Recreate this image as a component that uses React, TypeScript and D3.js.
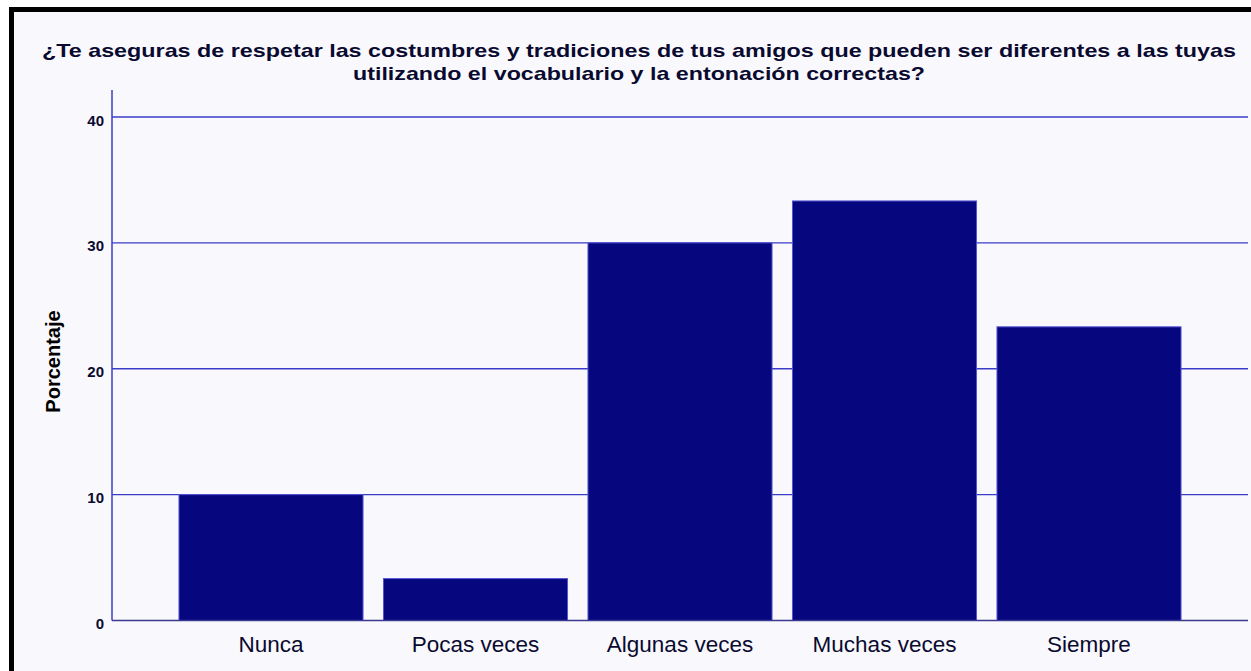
import React from "react";
import * as d3 from "d3";

const categories = ["Nunca", "Pocas veces", "Algunas veces", "Muchas veces", "Siempre"];
const values = [10, 3.33, 30, 33.33, 23.33];
const yTicks = [0, 10, 20, 30, 40];
const titleLines = [
  "¿Te aseguras de respetar las costumbres y tradiciones de tus amigos que pueden ser diferentes a las tuyas",
  "utilizando el vocabulario y la entonación correctas?",
];
const titleWidths = [1194, 572];
const yLabel = "Porcentaje";

export default function App() {
  const W = 1251, H = 671;
  const x = d3.scaleBand<string>().domain(categories).range([112, 1248]).paddingInner(0.1).paddingOuter(0.3275);
  const y = d3.scaleLinear().domain([0, 40]).range([620.5, 117]);
  const grid = "#3c3cc8";
  const font = "Liberation Sans, Arial, sans-serif";
  return (
    <svg width={W} height={H} style={{ position: "absolute", left: 0, top: 0, display: "block" }}>
      <rect x={0} y={0} width={W} height={H} fill="#ffffff" />
      <rect x={11.5} y={9.5} width={W + 20} height={H + 20} fill="#f9f9fd" stroke="#000" strokeWidth={5} />
      {titleLines.map((t, i) => (
        <text
          key={i}
          x={639}
          y={57 + i * 22.5}
          textAnchor="middle"
          fontFamily={font}
          fontWeight="bold"
          fontSize={18.5}
          fill="#0a0a30"
          textLength={titleWidths[i]}
          lengthAdjust="spacingAndGlyphs"
        >
          {t}
        </text>
      ))}
      {yTicks.filter((t) => t > 0).map((t) => (
        <line key={t} x1={112} x2={1248} y1={y(t)} y2={y(t)} stroke={grid} strokeWidth={1.3} />
      ))}
      {values.map((v, i) => (
        <rect
          key={categories[i]}
          x={x(categories[i])!}
          y={y(v)}
          width={x.bandwidth()}
          height={y(0) - y(v)}
          fill="#06067f"
          stroke="#5555d5"
          strokeWidth={1}
        />
      ))}
      <line x1={112} x2={112} y1={90} y2={y(0)} stroke={grid} strokeWidth={1.5} />
      <line x1={112} x2={1248} y1={y(0)} y2={y(0)} stroke="#3a3a90" strokeWidth={1.5} />
      {yTicks.map((t) => (
        <text key={t} x={104} y={y(t) + 8.5} textAnchor="end" fontFamily={font} fontWeight="bold" fontSize={15} fill="#0a0a30">
          {t}
        </text>
      ))}
      {categories.map((c) => (
        <text key={c} x={x(c)! + x.bandwidth() / 2} y={651.5} textAnchor="middle" fontFamily={font} fontSize={22.5} fill="#0a0a30">
          {c}
        </text>
      ))}
      <text
        transform={`translate(60,361.5) rotate(-90)`}
        textAnchor="middle"
        fontFamily={font}
        fontWeight="bold"
        fontSize={20}
        fill="#000"
      >
        {yLabel}
      </text>
    </svg>
  );
}
